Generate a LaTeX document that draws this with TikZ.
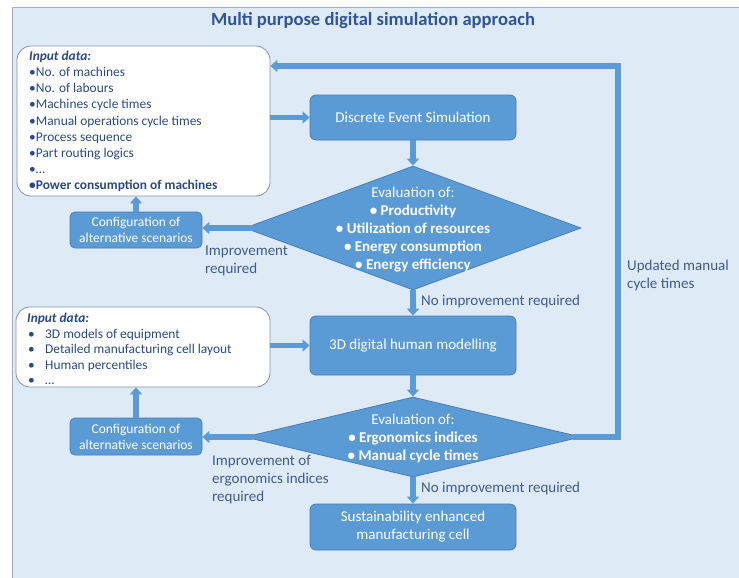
\documentclass[tikz,border=0pt]{standalone}
\usepackage{fontspec}
\setmainfont{Carlito}
\usetikzlibrary{shapes.geometric,arrows.meta}
\definecolor{boxblue}{HTML}{5B9BD5}
\definecolor{boxedge}{HTML}{4A7EB0}
\definecolor{panelfill}{HTML}{DEEAF6}
\definecolor{paneledge}{HTML}{9AB0C6}
\definecolor{titlecol}{HTML}{2F5597}
\definecolor{textcol}{HTML}{2A4A85}
\definecolor{lblcol}{HTML}{3F5C8C}
\definecolor{inedge}{HTML}{8496AE}
\tikzset{
  inbox/.style={draw=inedge, fill=white, rounded corners=14pt, line width=0.8pt, inner sep=0pt},
  bbox/.style={draw=boxedge, fill=boxblue, rounded corners=6pt, line width=0.8pt, text=white, align=center, font=\fontsize{15}{18}\selectfont},
  cbox/.style={draw=boxedge, fill=boxblue, rounded corners=5pt, line width=0.8pt, text=white, align=center, font=\fontsize{13.5}{16}\selectfont, inner sep=0pt},
  dia/.style={shape=diamond, draw=boxedge, fill=boxblue, line width=0.8pt, inner sep=0pt},
  dtext/.style={text=white, align=center, font=\fontsize{15}{18}\selectfont, inner sep=0pt},
  intext/.style={text=textcol, align=left, anchor=west, inner sep=0pt},
  lbl/.style={text=lblcol, align=left, anchor=west, inner sep=0pt, font=\fontsize{15}{18}\selectfont},
  flow/.style={draw=boxblue, line width=5.5pt, -{Triangle[width=12pt,length=7pt]}},
}
\begin{document}
\begin{tikzpicture}[x=1pt,y=-1pt]
\useasboundingbox (0,0) rectangle (739,578);
\fill[panelfill] (12,8) rectangle (739,578);
\draw[paneledge, line width=1pt] (12,578) -- (12,8) -- (739,8);

\node[font=\fontsize{18.6}{22}\selectfont\bfseries, text=titlecol] (title) at (373,21) {Multi purpose digital simulation approach};

% input box 1
\node[inbox, minimum width=253pt, minimum height=150pt] (in1) at (143.5,121) {};
\node[intext, font=\fontsize{13.4}{16.2}\selectfont] (in1t) at (29,121.5) {\textbf{\textit{Input data:}}\\•No. of machines\\•No. of labours\\•Machines cycle times\\•Manual operations cycle times\\•Process sequence\\•Part routing logics\\•…\\\textbf{•Power consumption of machines}};

\node[bbox, minimum width=206pt, minimum height=45pt] (des) at (413,117.5) {Discrete Event Simulation};

\node[dia, minimum width=336pt, minimum height=124pt] (d1) at (413,228) {};
\node[dtext] (d1t) at (413,229.5) {Evaluation of:\\\textbf{• Productivity}\\\textbf{• Utilization of resources}\\\textbf{• Energy consumption}\\\textbf{• Energy efficiency}};

\node[cbox, minimum width=132pt, minimum height=36pt] (cf1) at (136,230) {Configuration of\\alternative scenarios};

% input box 2
\node[inbox, minimum width=254pt, minimum height=80pt] (in2) at (143,347) {};
\node[intext, font=\fontsize{13.4}{15.5}\selectfont] (in2t) at (27,349) {\textbf{\textit{Input data:}}\\\hspace*{1pt}\makebox[17pt][l]{•}3D models of equipment\\\hspace*{1pt}\makebox[17pt][l]{•}Detailed manufacturing cell layout\\\hspace*{1pt}\makebox[17pt][l]{•}Human percentiles\\\hspace*{1pt}\makebox[17pt][l]{•}…};

\node[bbox, minimum width=206pt, minimum height=59pt] (hm) at (413,345.5) {3D digital human modelling};

\node[dia, minimum width=336pt, minimum height=80pt] (d2) at (413,437) {};
\node[dtext] (d2t) at (413,438) {Evaluation of:\\\textbf{• Ergonomics indices}\\\textbf{• Manual cycle times}};

\node[cbox, minimum width=132pt, minimum height=37pt] (cf2) at (136,436.5) {Configuration of\\alternative scenarios};

\node[bbox, minimum width=206pt, minimum height=46pt] (fin) at (413,527) {Sustainability enhanced\\manufacturing cell};

% labels
\node[lbl] (l1) at (205,261) {Improvement\\required};
\node[lbl] (l2) at (421,301) {No improvement required};
\node[lbl] (l3) at (627,275) {Updated manual\\cycle times};
\node[lbl] (l4) at (212,480) {Improvement of\\ergonomics indices\\required};
\node[lbl] (l5) at (421,488) {No improvement required};

% connectors
\coordinate (c1) at (618,66);
\coordinate (c2) at (618,437);
\draw[flow] (in1.east |- des.west) -- (des.west);
\draw[flow] (des.south) -- (d1.north);
\draw[flow] ([xshift=8pt]d1.west) -- (d1.west -| cf1.east);
\draw[flow] (cf1.north) -- (cf1.north |- in1.south);
\draw[flow] (d1.south) -- (hm.north);
\draw[flow] (in2.east |- hm.west) -- (hm.west);
\draw[flow] (hm.south) -- (d2.north);
\draw[flow] ([xshift=8pt]d2.west) -- (d2.west -| cf2.east);
\draw[flow] (cf2.north) -- (cf2.north |- in2.south);
\draw[flow] (d2.south) -- (fin.north);
\draw[flow] ([xshift=-8pt]d2.east) -- (c2) -- (c1) -- (in1.east |- c1);
\end{tikzpicture}
\end{document}
